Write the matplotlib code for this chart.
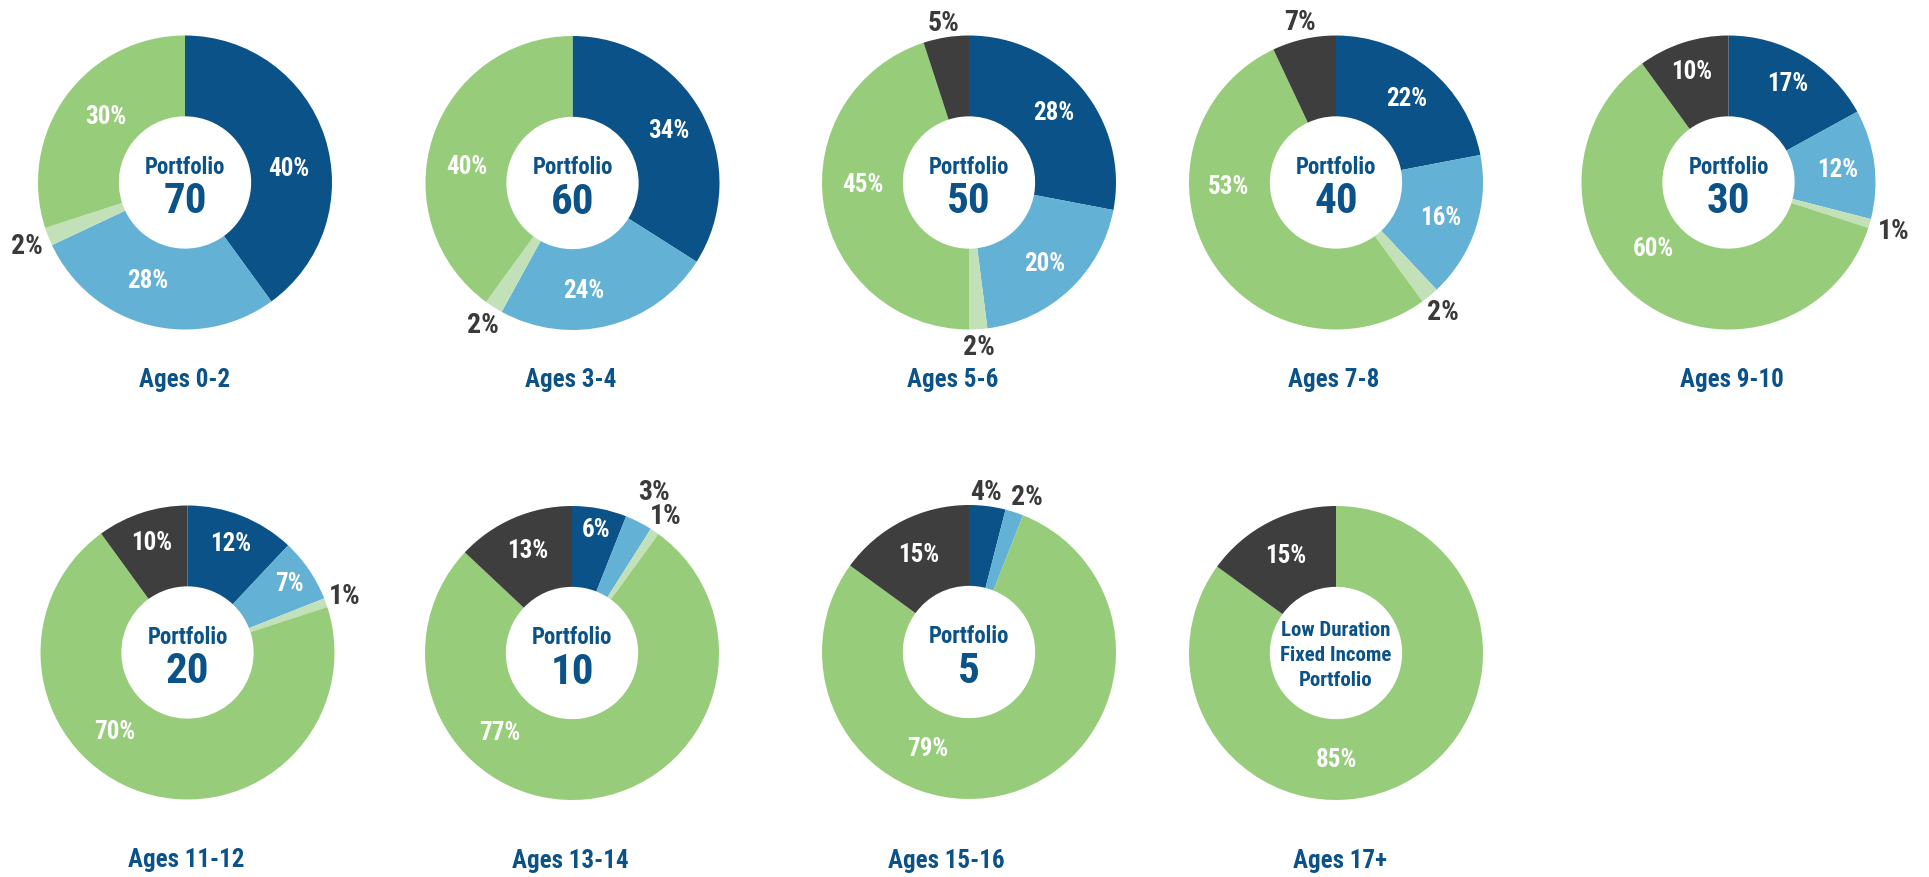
import matplotlib
matplotlib.use("Agg")
import matplotlib.pyplot as plt
import numpy as np
from matplotlib import font_manager as fm

# ---------------- data ----------------
ages = ["Ages 0-2", "Ages 3-4", "Ages 5-6", "Ages 7-8", "Ages 9-10",
        "Ages 11-12", "Ages 13-14", "Ages 15-16", "Ages 17+"]
portfolio_names = ["Portfolio\n70", "Portfolio\n60", "Portfolio\n50", "Portfolio\n40",
                   "Portfolio\n30", "Portfolio\n20", "Portfolio\n10", "Portfolio\n5",
                   "Low Duration\nFixed Income\nPortfolio"]
dark_blue = [40, 34, 28, 22, 17, 12, 6, 4, 0]
light_blue = [28, 24, 20, 16, 12, 7, 3, 2, 0]
pale_green = [2, 2, 2, 2, 1, 1, 1, 0, 0]
green = [30, 40, 45, 53, 60, 70, 77, 79, 85]
dark_gray = [0, 0, 5, 7, 10, 10, 13, 15, 15]

# ---------------- style ----------------
C_DBLUE = "#0B5289"
C_LBLUE = "#63B1D5"
C_PGREEN = "#C2E1B9"
C_GREEN = "#97CD7A"
C_GRAY = "#3E3E3E"
colors = [C_DBLUE, C_LBLUE, C_PGREEN, C_GREEN, C_GRAY]

names = {f.name for f in fm.fontManager.ttflist}
FONT = "DejaVu Sans"
for cand in ["Liberation Sans Narrow", "Roboto Condensed", "Open Sans Condensed",
             "Liberation Sans", "Roboto"]:
    if cand in names:
        FONT = cand
        break
plt.rcParams["font.family"] = [FONT, "DejaVu Sans"]
plt.rcParams["font.weight"] = "bold"

W, H = 1929, 878
R = 147.0          # outer radius in pixels
S = 480.0          # axes box size in pixels
L = S / 2 / R

fig = plt.figure(figsize=(W / 100, H / 100), dpi=100)
fig.patch.set_facecolor("white")

centers = [(185, 183.5), (572.5, 184), (969, 183.5), (1336, 183.5), (1728.5, 183.5),
           (187.5, 653.5), (572, 654), (969, 653), (1336, 654)]
title_y = [380, 380, 380, 380, 380, 860, 861, 861, 861]
title_dx = [0, -2, -16, -2, 3, -1, -2, -23, 4]

# label placement overrides: (chart, slice) -> (angle deg or None, radius)
inside_pos = {
    (0, 0): (8, 0.71), (0, 1): (-111, 0.71), (0, 3): (140, 0.70),
    (1, 1): (-84, 0.73), (1, 3): (171, 0.73),
    (2, 3): (181, 0.72),
    (3, 3): (182, 0.73),
    (4, 0): (None, 0.79), (4, 4): (None, 0.80), (4, 3): (221, 0.68),
    (5, 0): (None, 0.80), (5, 1): (None, 0.84), (5, 4): (None, 0.79), (5, 3): (227, 0.73),
    (6, 0): (None, 0.86), (6, 4): (None, 0.76), (6, 3): (227.6, 0.73),
    (7, 3): (247, 0.71),
    (8, 3): (270, 0.72),
}
outside_pos = {
    (0, 2): (None, 1.16), (1, 2): (None, 1.14), (2, 4): (None, 1.10),
    (2, 2): (None, 1.12), (3, 4): (None, 1.12), (3, 2): (None, 1.14),
    (4, 2): (None, 1.17), (5, 2): (None, 1.14), (6, 1): (None, 1.23),
    (6, 2): (None, 1.13), (7, 0): (84, 1.10), (7, 1): (69.5, 1.13),
}

for i in range(len(ages)):
    cx, cy = centers[i]
    ax = fig.add_axes([(cx - S / 2) / W, 1 - (cy + S / 2) / H, S / W, S / H])
    vals = [dark_blue[i], light_blue[i], pale_green[i], green[i], dark_gray[i]]
    wedges, _ = ax.pie(vals, colors=colors, startangle=90, counterclock=False,
                       radius=1.0, wedgeprops=dict(width=0.55, linewidth=0))
    ax.set_xlim(-L, L)
    ax.set_ylim(-L, L)
    ax.set_aspect("equal")
    ax.axis("off")

    for j, (w, v) in enumerate(zip(wedges, vals)):
        if v == 0:
            continue
        mid = (w.theta1 + w.theta2) / 2.0
        if (i, j) in outside_pos:
            ang, r = outside_pos[(i, j)]
            col = "#3A3A3A"
            fs = 20
        else:
            ang, r = inside_pos.get((i, j), (None, 0.75))
            col = "white"
            fs = 18
        if ang is None:
            ang = mid
        a = np.deg2rad(ang)
        ax.text(r * np.cos(a), r * np.sin(a), f"{v}%", ha="center", va="center",
                fontsize=fs, fontweight="bold", color=col)

    # centre text
    lines = portfolio_names[i].split("\n")
    if len(lines) == 2:
        ax.text(0, 0.11, lines[0], ha="center", va="center", fontsize=16.5,
                fontweight="bold", color=C_DBLUE)
        ax.text(0, -0.125, lines[1], ha="center", va="center", fontsize=31,
                fontweight="bold", color=C_DBLUE)
    else:
        for k, t in enumerate(lines):
            ax.text(0, 0.16 - k * 0.17, t, ha="center", va="center", fontsize=15,
                    fontweight="bold", color=C_DBLUE)

    ax.text(title_dx[i] / R, -(title_y[i] - cy) / R, ages[i], ha="center",
            va="center", fontsize=18, fontweight="bold", color=C_DBLUE,
            clip_on=False)

fig.savefig("out.png", dpi=100, facecolor="white")
